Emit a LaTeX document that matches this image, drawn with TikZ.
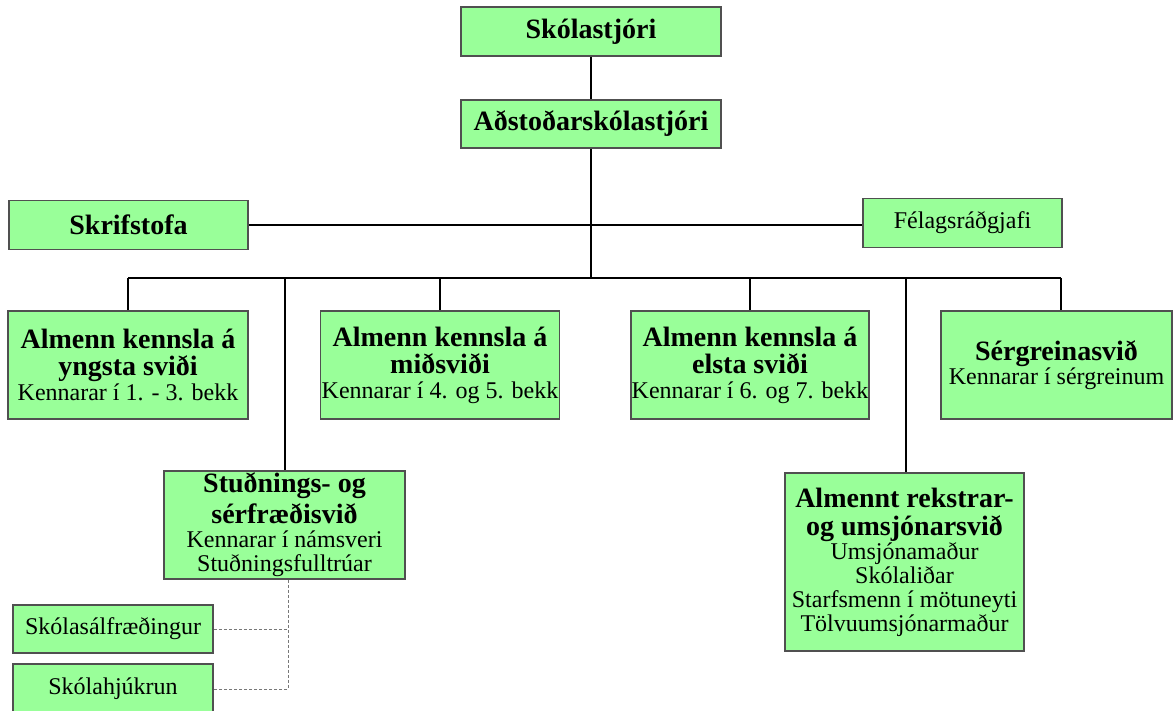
\documentclass[tikz,border=0pt]{standalone}
\usepackage{fontspec}
\setmainfont{Liberation Serif}
\definecolor{boxgreen}{RGB}{153,255,153}
\definecolor{boxgray}{RGB}{80,80,80}
\definecolor{dashgray}{RGB}{120,120,120}
\newcommand\bttl{\fontsize{28}{28}\selectfont\bfseries}
\newcommand\rtxt{\fontsize{24}{24}\selectfont\mdseries}
\begin{document}
\begin{tikzpicture}[x=1pt,y=-1pt,
  box/.style={draw=boxgray, line width=1.6pt, fill=boxgreen, inner sep=0pt, align=center, font=\rtxt},
  conn/.style={line width=1.5pt, black},
  dconn/.style={line width=0.8pt, dashgray, dash pattern=on 3pt off 2pt}]
\useasboundingbox (0,0) rectangle (1174,711);
\fill[white] (0,0) rectangle (1174,711);

% top
\node[box, minimum width=260, minimum height=49] (sk) at (591,31.5) {\bttl Skólastjóri};
\node[box, minimum width=260, minimum height=48] (ad) at (591,124) {\bttl Aðstoðarskólastjóri};

% staff level
\node[box, minimum width=239, minimum height=49] (skr) at (128.5,225) {\bttl Skrifstofa};
\node[box, minimum width=199, minimum height=49] (fel) at (962.5,223) {Félagsráðgjafi};

% department row
\node[box, minimum width=240, minimum height=108] (b1) at (128,365)
  {\bttl Almenn kennsla á\\[3pt] \bttl yngsta sviði\\[1pt] Kennarar í 1. - 3. bekk};
\node[box, minimum width=239, minimum height=108] (b2) at (440,365)
  {\bttl Almenn kennsla á\\[3pt] \bttl miðsviði\\[1pt] Kennarar í 4. og 5. bekk};
\node[box, minimum width=238, minimum height=108] (b3) at (750,365)
  {\bttl Almenn kennsla á\\[3pt] \bttl elsta sviði\\[1pt] Kennarar í 6. og 7. bekk};
\node[box, minimum width=231, minimum height=108] (b4) at (1056.5,365)
  {\bttl Sérgreinasvið\\ Kennarar í sérgreinum};

% lower boxes
\node[box, minimum width=241, minimum height=108] (st) at (284.5,525)
  {\bttl Stuðnings- og\\[4pt] \bttl sérfræðisvið\\ Kennarar í námsveri\\ Stuðningsfulltrúar};
\node[box, minimum width=239, minimum height=178] (rk) at (904.5,562)
  {\bttl Almennt rekstrar-\\[4pt] \bttl og umsjónarsvið\\ Umsjónamaður\\ Skólaliðar\\ Starfsmenn í mötuneyti\\ Tölvuumsjónarmaður};

\node[box, minimum width=200, minimum height=48] (ps) at (113,629) {Skólasálfræðingur};
\node[box, minimum width=200, minimum height=50] (hj) at (113,689) {Skólahjúkrun};

% connectors
\coordinate (j1) at (128,278);
\coordinate (j2) at (285,278);
\coordinate (j3) at (440,278);
\coordinate (j4) at (750,278);
\coordinate (j5) at (906,278);
\coordinate (j6) at (1061,278);
\coordinate (dd) at (288,689);

\draw[conn] (sk.south) -- (ad.north);
\draw[conn] (ad.south) -- (ad.south |- j1);
\draw[conn] (skr.east) -- (skr.east -| fel.west);
\draw[conn] (j1) -- (j6);
\draw[conn] (j1) -- (b1.north);
\draw[conn] (j2) -- (j2 |- st.north);
\draw[conn] (j3) -- (b2.north);
\draw[conn] (j4) -- (b3.north);
\draw[conn] (j5) -- (j5 |- rk.north);
\draw[conn] (j6) -- (j6 |- b4.north);

\draw[dconn] (st.south -| dd) -- (dd) -- (hj.east);
\draw[dconn] (ps.east) -- (ps.east -| dd);
\end{tikzpicture}
\end{document}
